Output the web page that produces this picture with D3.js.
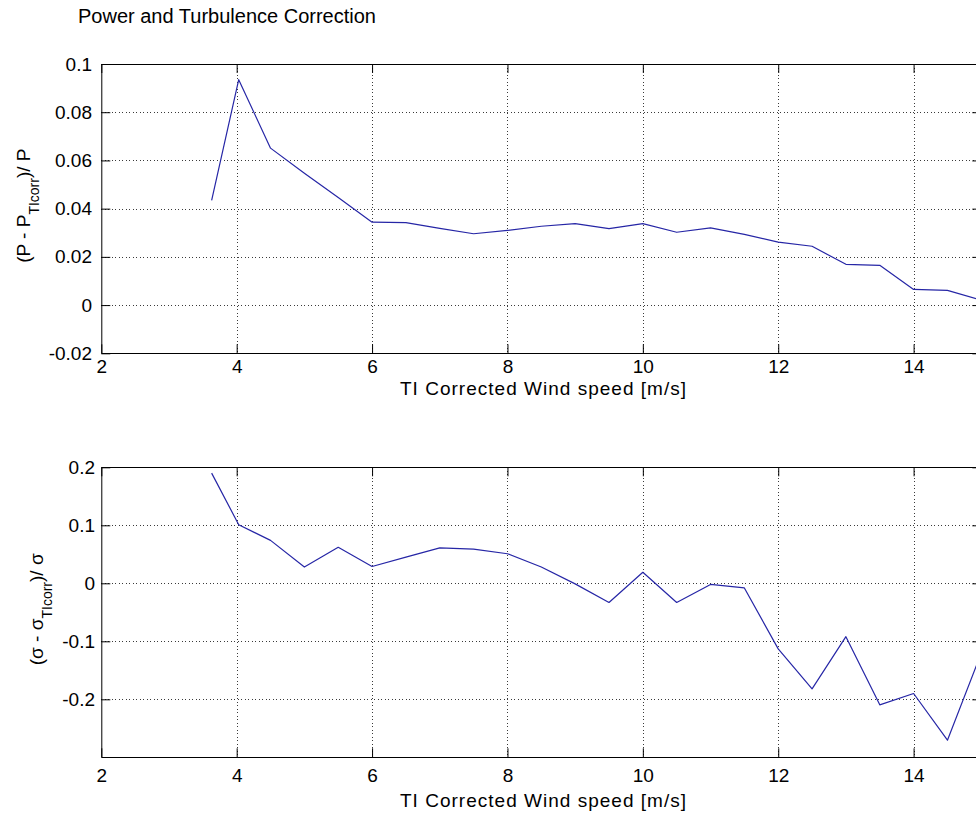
<!DOCTYPE html>
<html>
<head>
<meta charset="utf-8">
<script src="https://cdn.jsdelivr.net/npm/d3@7/dist/d3.min.js"></script>
<style>
  html, body { margin: 0; padding: 0; background: #fff; }
  svg { display: block; font-family: "Liberation Sans", Arial, Helvetica, sans-serif; }
</style>
</head>
<body>
<svg id="chart" width="976" height="815"></svg>
<script>
// Bin-averaged wind speed [m/s]
const windSpeed = [3.63, 4.03, 4.5, 5, 5.5, 6, 6.5, 7, 7.5, 8, 8.5, 9, 9.5, 10,
                   10.5, 11, 11.5, 12, 12.5, 13, 13.5, 14, 14.5, 15];
// Relative power change (P - P_TIcorr) / P
const powerDiff = [0.0434, 0.0935, 0.0651, 0.0547, 0.0446, 0.0344, 0.0342, 0.0318,
                   0.0296, 0.0310, 0.0327, 0.0338, 0.0317, 0.0338, 0.0302, 0.0320,
                   0.0293, 0.0261, 0.0244, 0.0169, 0.0165, 0.0065, 0.0061, 0.0020];
// Relative change of the standard deviation (sigma - sigma_TIcorr) / sigma
const sigmaDiff = [0.190, 0.101, 0.074, 0.028, 0.062, 0.029, 0.045, 0.061,
                   0.059, 0.051, 0.028, -0.001, -0.033, 0.019, -0.033, -0.002,
                   -0.008, -0.113, -0.182, -0.092, -0.2095, -0.190, -0.2705, -0.120];

const xTicks = [2, 4, 6, 8, 10, 12, 14];
const powerTicks = [-0.02, 0, 0.02, 0.04, 0.06, 0.08, 0.1];
const sigmaTicks = [-0.2, -0.1, 0, 0.1, 0.2];

const titleText = "Power and Turbulence Correction";
const xLabelText = "TI Corrected Wind speed [m/s]";

const svg = d3.select("#chart");
const fmt = v => String(+v.toFixed(3));

const left = 101.3, right = 981.3;
const x = d3.scaleLinear().domain([2, 15]).range([left, right]);

const panels = [
  { top: 64, bottom: 353.3, domain: [-0.02, 0.1], ticks: powerTicks, values: powerDiff,
    tickPad: 6.2, yLabelX: 30, yTickRight: 92,
    yLabel: ["(P - P", "TIcorr", ")/ P"], xLabelY: 395 },
  { top: 467.3, bottom: 757.3, domain: [-0.3, 0.2], ticks: sigmaTicks, values: sigmaDiff,
    tickPad: 11.2, yLabelX: 43, yTickRight: 95,
    yLabel: ["(\u03c3 - \u03c3", "TIcorr", ")/ \u03c3"], xLabelY: 807 }
];

svg.append("text")
  .attr("x", 78).attr("y", 23)
  .attr("font-size", 20).attr("fill", "#000")
  .text(titleText);

const tickLen = 9;
const line = d3.line();

panels.forEach(p => {
  const y = d3.scaleLinear().domain(p.domain).range([p.bottom, p.top]);
  const g = svg.append("g");

  // dotted grid
  const grid = g.append("g")
    .attr("stroke", "#3a3a3a").attr("stroke-width", 1)
    .attr("stroke-dasharray", "1,2.5").attr("shape-rendering", "crispEdges");
  grid.selectAll(".gx").data(xTicks.filter(t => t > 2)).join("line")
    .attr("x1", d => Math.round(x(d)) + 0.5).attr("x2", d => Math.round(x(d)) + 0.5)
    .attr("y1", p.top).attr("y2", p.bottom);
  grid.selectAll(".gy").data(p.ticks.filter(t => y(t) > p.top + 1 && y(t) < p.bottom - 1)).join("line")
    .attr("y1", d => Math.round(y(d)) + 0.5).attr("y2", d => Math.round(y(d)) + 0.5)
    .attr("x1", left).attr("x2", right);

  // data line
  const pts = windSpeed.map((w, i) => [x(w), y(p.values[i])]);
  g.append("path")
    .attr("d", line(pts))
    .attr("fill", "none").attr("stroke", "#2626a6").attr("stroke-width", 1.2)
    .attr("stroke-linejoin", "round");

  // axes with inward ticks on all sides
  const styleAxis = sel => {
    sel.select(".domain").remove();
    sel.attr("font-family", null).attr("font-size", 19);
    sel.selectAll(".tick line").attr("stroke", "#000");
    sel.selectAll(".tick text").attr("fill", "#000").attr("font-size", 19);
  };

  g.append("g").attr("transform", `translate(0,${p.bottom})`)
    .call(d3.axisBottom(x).tickValues(xTicks).tickFormat(fmt)
      .tickSize(-tickLen).tickPadding(p.tickPad))
    .call(styleAxis);
  g.append("g").attr("transform", `translate(0,${p.top})`)
    .call(d3.axisTop(x).tickValues(xTicks).tickFormat("").tickSize(-tickLen))
    .call(styleAxis);
  g.append("g").attr("transform", `translate(${left},0)`)
    .call(d3.axisLeft(y).tickValues(p.ticks).tickFormat(fmt)
      .tickSize(-tickLen).tickPadding(left - p.yTickRight))
    .call(styleAxis);
  g.append("g").attr("transform", `translate(${right},0)`)
    .call(d3.axisRight(y).tickValues(p.ticks).tickFormat("").tickSize(-tickLen))
    .call(styleAxis);

  // axes box
  g.append("rect")
    .attr("x", left + 0.5).attr("y", Math.round(p.top) + 0.5)
    .attr("width", right - left).attr("height", Math.round(p.bottom) - Math.round(p.top))
    .attr("fill", "none").attr("stroke", "#000").attr("stroke-width", 1);

  // x label
  g.append("text")
    .attr("x", 543).attr("y", p.xLabelY)
    .attr("text-anchor", "middle").attr("font-size", 19)
    .attr("textLength", 286).attr("lengthAdjust", "spacing")
    .text(xLabelText);

  // y label with subscript
  const cy = (p.top + p.bottom) / 2 - 3;
  const yl = g.append("text")
    .attr("transform", `translate(${p.yLabelX},${cy}) rotate(-90)`)
    .attr("text-anchor", "middle").attr("font-size", 19);
  yl.append("tspan").text(p.yLabel[0]);
  yl.append("tspan").attr("font-size", 14).attr("dy", 9).text(p.yLabel[1]);
  yl.append("tspan").attr("dy", -9).text(p.yLabel[2]);
});
</script>
</body>
</html>
